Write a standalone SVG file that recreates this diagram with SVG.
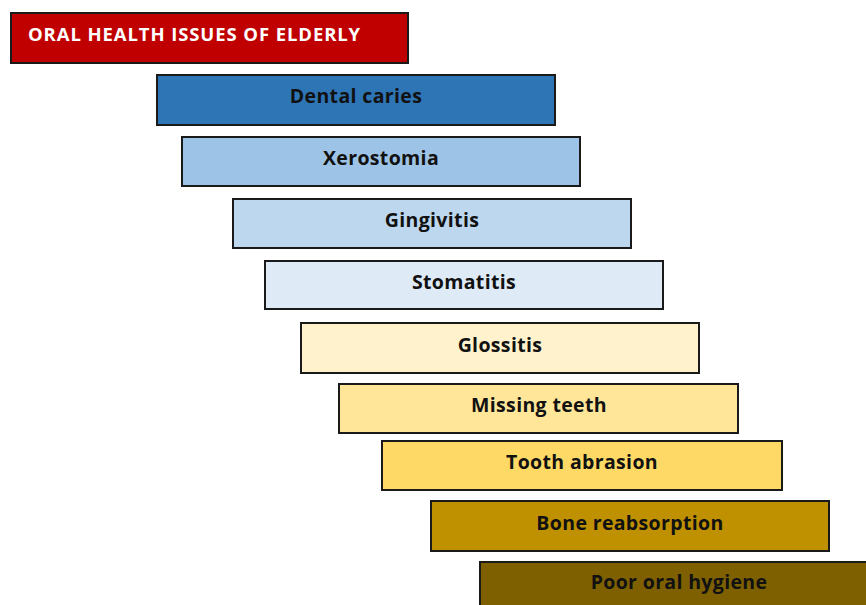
<svg xmlns="http://www.w3.org/2000/svg" width="866" height="605" viewBox="0 0 866 605">
<style>
.b{stroke:#1a1a1a;stroke-width:2}
.t{font-family:"Open Sans","Liberation Sans",sans-serif;font-weight:700;font-size:19.5px;letter-spacing:0.35px;fill:#111;text-anchor:middle}
.h{font-family:"Open Sans","Liberation Sans",sans-serif;font-weight:700;font-size:18.5px;letter-spacing:0.9px;fill:#fff}
</style>
<rect width="866" height="605" fill="#fff"/>
<g id="title"><rect class="b" x="11" y="13" width="397" height="50" fill="#C00000"/><text class="h" x="28" y="40.5">ORAL HEALTH ISSUES OF ELDERLY</text></g>
<g id="n1"><rect class="b" x="157" y="75" width="398" height="50" fill="#2E75B6"/><text class="t" x="356" y="103">Dental caries</text></g>
<g id="n2"><rect class="b" x="182" y="137" width="398" height="49" fill="#9DC3E6"/><text class="t" x="381" y="165">Xerostomia</text></g>
<g id="n3"><rect class="b" x="233" y="199" width="398" height="49" fill="#BDD7EE"/><text class="t" x="432" y="227">Gingivitis</text></g>
<g id="n4"><rect class="b" x="265" y="261" width="398" height="48" fill="#DEEBF7"/><text class="t" x="464" y="289">Stomatitis</text></g>
<g id="n5"><rect class="b" x="301" y="323" width="398" height="50" fill="#FFF2CC"/><text class="t" x="500" y="352">Glossitis</text></g>
<g id="n6"><rect class="b" x="339" y="384" width="399" height="49" fill="#FFE699"/><text class="t" x="539" y="412">Missing teeth</text></g>
<g id="n7"><rect class="b" x="382" y="441" width="400" height="49" fill="#FFD966"/><text class="t" x="582" y="469">Tooth abrasion</text></g>
<g id="n8"><rect class="b" x="431" y="501" width="398" height="50" fill="#BF9000"/><text class="t" x="630" y="530">Bone reabsorption</text></g>
<g id="n9"><rect class="b" x="480" y="562" width="400" height="50" fill="#7F6000"/><text class="t" x="679" y="589">Poor oral hygiene</text></g>
<g id="connectors"/>
</svg>
